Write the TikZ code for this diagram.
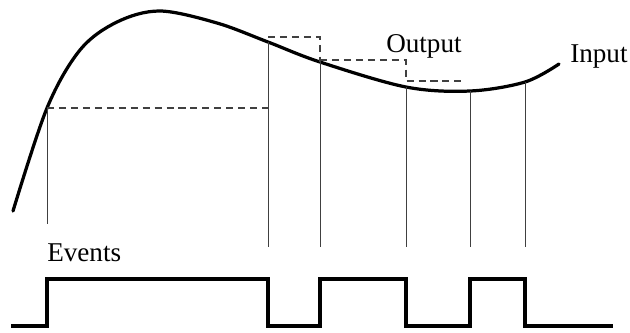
\documentclass[tikz,border=0pt]{standalone}
\usepackage{fontspec}
\setmainfont{Liberation Serif}
\usetikzlibrary{positioning}
\tikzset{
  bemenet/.style={line width=2.3pt,line cap=round},
  impulzus/.style={line width=2.4pt},
  tartas/.style={black!75,line width=0.9pt,dash pattern=on 5pt off 3.5pt},
  esemeny/.style={black!75,line width=0.7pt},
  felirat/.style={inner sep=0pt,font=\fontsize{19.3}{22}\selectfont},
}

\begin{document}
\begin{tikzpicture}[x=0.025cm,y=-0.025cm]
  \useasboundingbox (0,0) rectangle (630,332);
  % events on the input curve
  \coordinate (e1) at (47,108);
  \coordinate (e2) at (268,42);
  \coordinate (e3) at (320,62);
  \coordinate (e4) at (406,87);
  \coordinate (e5) at (470,91);
  \coordinate (e6) at (525,82);
  \coordinate (alja) at (0,247);
  \coordinate (fent) at (0,279);
  \coordinate (lent) at (0,326);
  \draw[bemenet] plot[smooth,tension=0.55] coordinates
    {(13,211) (e1) (80,50) (117,22) (160,11) (217,23) (e2) (e3) (e4) (e5) (e6) (559,64)};
  \draw[esemeny] (e1) -- (47,224);
  \foreach \e in {2,...,6} \draw[esemeny] (e\e) -- (e\e |- alja);
  % held output values
  \draw[tartas] (e1) -- (e1 -| e2);
  \draw[tartas] (268,37) -- (320,37) -- (e3);
  \draw[tartas] (320,60) -- (406,60) -- (406,81) -- (466,81);
  \draw[impulzus] (11,326) -- (e1 |- lent) -- (e1 |- fent) -- (e2 |- fent)
    -- (e2 |- lent) -- (e3 |- lent) -- (e3 |- fent) -- (e4 |- fent)
    -- (e4 |- lent) -- (e5 |- lent) -- (e5 |- fent) -- (e6 |- fent)
    -- (e6 |- lent) -- (613,326);
  \node[felirat,anchor=base west] (events) at (47,261) {Events};
  \node[felirat,anchor=base west] (output) at (386,52) {Output};
  \node[felirat,anchor=base west] (input) at (570,62) {Input};
\end{tikzpicture}
\end{document}
